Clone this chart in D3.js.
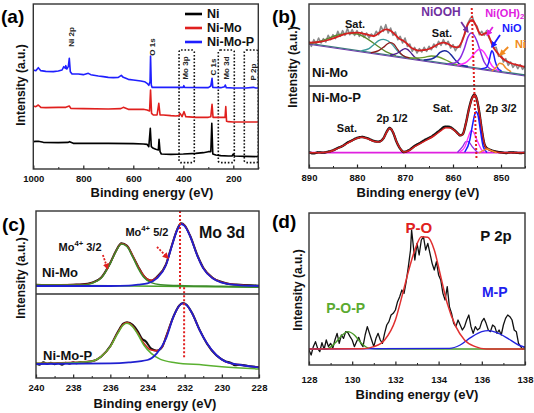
<!DOCTYPE html>
<html><head><meta charset="utf-8">
<script src="https://cdn.jsdelivr.net/npm/d3@7"></script>
<style>
body{margin:0;background:#fff}
text{font-family:'Liberation Sans',Arial,Helvetica,sans-serif;font-weight:bold}
</style>
</head><body>
<svg id="fig" width="534" height="413"></svg>
<script>
// ---------------- DATA ----------------
// (a) survey
const aTicks = [1000, 800, 600, 400, 200];
const aMinor = [900, 700, 500, 300, 100];
const aSeriesNames = ['Ni', 'Ni-Mo', 'Ni-Mo-P'];
const aNi = [[1000,82],[990,83],[980,83],[960,80],[900,79],[860,80],[855,82],[840,77],[800,77],[700,77],[600,76],[560,75],[545,74],[538,67],[532,122],[528,67],[520,62],[510,59],[500,57],[497,89],[493,52],[488,45],[450,44],[400,45],[350,47],[320,49],[300,52],[290,52],[286,137],[282,45],[270,42],[250,40],[220,39],[205,39],[200,45],[195,39],[150,38],[100,37]];
const aNiMo = [[1000,189],[990,187],[980,192],[970,185],[950,184],[900,185],[870,185],[856,189],[850,182],[800,181],[700,180],[650,181],[640,185],[620,179],[580,179],[560,179],[545,177],[535,174],[531,237],[527,167],[520,162],[505,162],[498,197],[493,162],[480,162],[450,160],[430,159],[418,160],[413,167],[405,157],[397,172],[390,157],[350,155],[300,155],[290,157],[285,194],[281,155],[260,155],[240,155],[233,155],[230,187],[227,143],[220,142],[200,141],[150,141],[100,141]];
const aNiMoP = [[1000,297],[990,295],[980,304],[970,295],[950,293],[920,292],[900,294],[885,297],[878,307],[872,302],[870,310],[866,300],[860,307],[856,332],[852,292],[845,285],[820,285],[800,283],[780,287],[770,283],[740,279],[720,277],[700,275],[680,274],[660,275],[648,281],[640,275],[620,269],[600,267],[570,264],[555,262],[545,257],[538,251],[533,262],[531,339],[528,252],[525,245],[500,245],[450,245],[400,245],[398,250],[395,245],[300,244],[290,249],[285,272],[282,245],[250,244],[235,247],[232,252],[228,244],[200,243],[150,243],[120,245],[110,243],[100,243]];
const aBoxes = [['Mo 3p',417,356],['Mo 3d',260,196],['P 2p',156,100]];
const aBoxY = [19, 357];
const aPeakLabels = [['Ni 2p',849,396],['O 1s',525,366],['Mo 3p',393,303],['C 1s',281,306],['Mo 3d',226,303],['P 2p',121,291]];

// (b) Ni 2p
const bTicks = [890, 880, 870, 860, 850];
const bMinor = [885, 875, 865, 855, 845];
const bNiMoRaw = [[890,380],[889.5,365],[889,385],[888.5,372],[888,390],[887.5,375],[887,388],[886.5,378],[886,398],[885.5,385],[885,400],[884.5,388],[884,410],[883.5,395],[883,412],[882.5,398],[882,418],[881.5,400],[881,415],[880.5,398],[880,412],[879.5,395],[879,408],[878.5,392],[878,405],[877.5,390],[877,402],[876.5,395],[876,410],[875.5,400],[875,425],[874.5,410],[874,430],[873.5,405],[873,420],[872.5,398],[872,408],[871.5,385],[871,395],[870.5,375],[870,390],[869.5,365],[869,372],[868.5,350],[868,362],[867.5,345],[867,358],[866.5,348],[866,362],[865.5,350],[865,365],[864.5,355],[864,372],[863.5,362],[863,380],[862.5,368],[862,385],[861.5,370],[861,380],[860.5,360],[860,370],[859.5,352],[859,365],[858.5,362],[858,388],[857.5,402],[857,432],[856.5,446],[856,456],[855.5,432],[855,426],[854.5,400],[854,410],[853.5,398],[853,412],[852.5,390],[852,380],[851.5,360],[851,362],[850.5,335],[850,342],[849.5,318],[849,328],[848.5,308],[848,318],[847.5,302],[847,312],[846.5,298],[846,310],[845.5,296],[845,306]];
const bNiMoFit = [[890,376],[888,378],[886,384],[884,394],[882,404],[880,406],[878,401],[876.5,396],[875,409],[874,416],[873,412],[872,399],[871,386],[870.5,383],[870,378],[869.5,372],[869,364],[868,356],[867,352],[866,354],[865,357],[864,364],[863,372],[862,376],[861,372],[860,364],[859,362],[858.5,370],[858,384],[857.1,425],[856.5,440],[856,444],[855.5,436],[855,420],[854.5,405],[854,399],[853.5,403],[853,405],[852.5,395],[852,375],[851.5,360],[851,350],[850,333],[849,322],[848,315],[846,307],[845,303]];
const bNiMoBase = [[890,374],[845,279]];
const bSatA = [[890,373],[888,379],[886,389],[884,399],[882,404],[880,402],[878,389],[876,369],[874,349],[872,338]];
const bSatB = [[879,352],[877.5,358],[876.5,370],[875.5,382],[874.5,386],[873.5,381],[872.5,368],[871.5,350],[870,333],[868.5,328]];
const bSatC = [[877,346],[875.5,352],[874.5,362],[873.7,372],[873,376],[872.3,371],[871.5,355],[870.5,338],[869,330]];
const bSatD = [[873,339],[871.8,343],[871,350],[870.4,356],[870,358],[869.5,356],[868.8,346],[868,333],[867,326]];
const bSatE = [[869,330],[867.5,330],[866,332],[864.5,336],[863,333],[861.5,324],[860,314],[858,307]];
const bSatF = [[866,324],[864.5,327],[863.5,335],[862.7,347],[861.8,352],[861,348],[860.2,336],[859.3,320],[858.3,309],[857,305]];
const bNiOOH = [[861,312],[859.5,316],[858.5,330],[857.6,360],[856.9,392],[856.2,405],[855.6,398],[855,380],[854.3,350],[853.5,318],[852.5,300],[851.5,293]];
const bNiOH2 = [[859,309],[857.5,315],[856.3,330],[855.3,348],[854.5,356],[853.7,350],[852.8,330],[851.8,305],[850.5,292]];
const bNiO = [[854,298],[853,302],[852.5,320],[852.1,345],[851.9,352],[851.6,345],[851.2,320],[850.6,298],[850,292]];
const bNi0 = [[851.8,292],[851,302],[850.3,314],[849.7,312],[849,300],[848,290]];
const bNiMoPData = [[890,47],[889,44],[888,47],[887,46],[886,49],[885,53],[884,60],[883,66],[882,76],[881,83],[880,90],[879,93],[878,90],[877,84],[876.5,81],[875.5,79],[874.5,89],[873.8,109],[873.2,120],[872.5,107],[871.8,80],[871,58],[870.2,48],[869.5,51],[869,55],[868,66],[867,74],[866,83],[865,90],[864,99],[863,110],[862.5,116],[862,122],[861.5,124],[861,124],[860.5,122],[860,117],[859.5,111],[859,104],[858.5,98],[858,101],[857.3,135],[856.7,176],[856,211],[855.5,220],[855,204],[854.5,165],[854,114],[853.5,74],[853,60],[852.5,56],[852,53],[851,49],[850,47],[849,45],[848,47],[847,46],[846,45],[845,46]];
const bNiMoPFit = [[890,46],[888,46],[886,48],[884,59],[882,74],[880,89],[879,92],[878,89],[876.5,80],[875.5,78],[874.5,88],[873.8,108],[873.2,119],[872.5,108],[871.8,80],[871,58],[870.2,48],[869.5,50],[868,64],[866,80],[864,96],[862.5,112],[861.5,121],[860.5,120],[859.5,110],[858.5,98],[858,100],[857.3,135],[856.7,175],[856,210],[855.5,219],[855,205],[854.5,165],[854,115],[853.5,74],[853,58],[852.5,55],[852,52],[851,48],[850,46],[845,46]];
const bNiMoPBase = [[890,46],[845,46]];
const bP32 = [[857.5,49],[856.5,84],[856,124],[855.5,159],[855.2,169],[854.8,159],[854.3,114],[853.7,64],[853,48]];
const bPOH = [[858.5,49],[857.5,64],[856.8,94],[856.2,112],[855.8,109],[855,84],[854,54],[853.5,48]];
const bPOOH = [[859,48],[858,64],[857.3,79],[856.8,79],[856,64],[855,48]];
const bPNi = [[854.5,46],[853.5,54],[852.8,57],[852,52],[851,46]];
const bRefLine = [[856.1,480],[855.1,25]];
const bDivider = 246;

// (c) Mo 3d
const cTicks = [240, 238, 236, 234, 232, 230, 228];
const cMinor = [239, 237, 235, 233, 231, 229];
const cNiMoBase = [[240,279],[228,272]];
const cNiMo32 = [[240,279],[238,279],[237.5,279],[237,284],[236.5,299],[236,344],[235.7,379],[235.4,402],[235.1,394],[234.8,364],[234.5,329],[234.2,302],[233.8,286],[233.3,280],[232,277],[230,275],[228,272]];
const cNiMo52 = [[240,276],[236,276],[235,277],[234.5,280],[234,284],[233.5,299],[233,339],[232.7,394],[232.4,444],[232.2,462],[232,456],[231.7,424],[231.3,364],[231,329],[230.5,299],[230,286],[229.5,281],[229,278],[228,276]];
const cNiMoFit = [[240,279],[237.5,280],[237,285],[236.5,300],[236,345],[235.7,380],[235.4,403],[235.1,396],[234.8,367],[234.5,333],[234.2,307],[233.8,293],[233.5,302],[233,341],[232.7,395],[232.4,445],[232.2,463],[232,457],[231.7,425],[231.3,365],[231,330],[230.5,300],[230,287],[229.5,282],[229,279],[228,276]];
const cNiMoData = [[240,280],[239,278],[238,280],[237.5,281],[237,286],[236.5,301],[236,346],[235.7,381],[235.4,404],[235.1,397],[234.8,366],[234.5,334],[234.2,306],[233.8,292],[233.5,303],[233,342],[232.7,396],[232.4,446],[232.2,464],[232,458],[231.7,426],[231.3,366],[231,331],[230.5,301],[230,288],[229.5,281],[229,280],[228,277]];
const cNiMoP32 = [[240,44],[238,46],[237,50],[236.5,64],[236,94],[235.6,134],[235.3,159],[235.1,164],[234.8,154],[234.5,129],[234.2,99],[233.8,74],[233.3,56],[232.5,46],[231,39],[230,34],[228,27]];
const cNiMoP52 = [[240,42],[236,44],[235,47],[234,54],[233.5,74],[233,119],[232.6,184],[232.3,216],[232.1,224],[231.9,219],[231.6,194],[231.2,144],[230.8,104],[230.3,69],[229.8,49],[229,39],[228,32]];
const cNiMoPFit = [[240,44],[237,50],[236.5,64],[236,94],[235.6,136],[235.3,161],[235.1,166],[234.8,156],[234.5,132],[234.2,104],[233.8,84],[233.5,82],[233.2,94],[233,124],[232.6,184],[232.3,216],[232.1,224],[231.9,219],[231.6,194],[231.2,144],[230.8,104],[230.3,69],[229.8,49],[229,39],[228,32]];
const cNiMoPData = [[240,44],[239.8,40],[239.6,47],[239.4,42],[239.2,46],[239,41],[238.8,45],[238.6,40],[238.4,46],[238.2,43],[238,47],[237.8,44],[237.6,48],[237.4,45],[237.2,49],[237,50],[236.5,64],[236,96],[235.6,138],[235.3,163],[235.1,167],[234.8,160],[234.5,138],[234.3,118],[234.1,110],[233.8,88],[233.5,82],[233.2,94],[233,124],[232.6,185],[232.3,217],[232.1,225],[231.9,220],[231.6,195],[231.2,145],[230.8,103],[230.3,68],[230,56],[229.8,50],[229.5,45],[229.3,38],[229,40],[228.5,35],[228,33]];
const cRefLines = [[[232.25,501],[232.25,268]],[[232.03,272],[232.03,58]]];
const cArrows = [[[236.4,369],[236.15,328]],[[233.49,393],[232.9,360]]];
const cDivider = 252;

// (d) P 2p
const dTicks = [128, 130, 132, 134, 136, 138];
const dMinor = [129, 131, 133, 135, 137];
const dData = [[128.0,45],[128.1,30],[128.2,55],[128.3,70],[128.4,50],[128.5,40],[128.6,67],[128.7,47],[128.8,75],[128.9,55],[129.0,65],[129.1,50],[129.2,75],[129.3,95],[129.4,65],[129.5,90],[129.6,80],[129.7,100],[129.8,97],[129.9,85],[130.0,75],[130.1,55],[130.2,70],[130.3,83],[130.4,65],[130.5,55],[130.6,90],[130.7,115],[130.8,95],[130.9,75],[131.0,55],[131.1,80],[131.2,95],[131.3,75],[131.4,65],[131.5,95],[131.6,120],[131.7,130],[131.8,150],[131.9,155],[132.0,165],[132.1,190],[132.2,205],[132.3,225],[132.4,215],[132.5,250],[132.6,295],[132.7,345],[132.75,405],[132.8,375],[132.9,315],[133.0,365],[133.1,330],[133.2,375],[133.3,385],[133.4,345],[133.5,365],[133.6,335],[133.7,305],[133.8,285],[133.9,310],[134.0,270],[134.1,255],[134.2,215],[134.3,195],[134.4,235],[134.5,175],[134.6,155],[134.7,125],[134.8,115],[134.9,135],[135.0,120],[135.1,105],[135.2,115],[135.3,135],[135.4,150],[135.5,115],[135.6,95],[135.7,115],[135.8,105],[135.9,110],[136.0,130],[136.1,140],[136.2,125],[136.3,105],[136.4,100],[136.5,120],[136.6,115],[136.7,95],[136.8,105],[136.9,90],[137.0,120],[137.1,140],[137.2,150],[137.3,145],[137.4,135],[137.5,105],[137.6,100],[137.7,65],[137.8,55],[137.9,47],[138.0,55]];
const dPO = [[128,48],[130.5,49],[131,55],[131.5,75],[132,135],[132.3,205],[132.6,280],[132.9,345],[133.2,385],[133.5,383],[133.8,345],[134.1,265],[134.4,185],[134.8,115],[135.2,75],[135.7,55],[136.2,48],[138,48]];
const dPOP = [[128,48],[128.8,48],[129.2,65],[129.5,87],[129.8,100],[130.1,90],[130.4,67],[130.8,50],[131.2,48],[138,48]];
const dMP = [[128,48],[134.5,50],[135,60],[135.5,83],[136,100],[136.3,103],[136.7,97],[137.2,80],[137.7,60],[138,53]];

// ---------------- DRAWING ----------------
const svg = d3.select('#fig');
const defs = svg.append('defs');
const FONT = "'Liberation Sans',Arial,Helvetica,sans-serif";

function marker(id, color, size) {
  defs.append('marker').attr('id', id).attr('viewBox', '0 0 10 10')
    .attr('refX', 8).attr('refY', 5).attr('markerWidth', size).attr('markerHeight', size)
    .attr('orient', 'auto').append('path').attr('d', 'M0,0L10,5L0,10z').attr('fill', color);
}

function panel(cfg) {
  const x = d3.scaleLinear().domain(cfg.xd).range([cfg.l, cfg.r]);
  const y = d3.scaleLinear().domain(cfg.yd).range([cfg.b, cfg.t]);
  const id = 'clip-' + cfg.name;
  defs.append('clipPath').attr('id', id).append('rect')
    .attr('x', cfg.l).attr('y', cfg.t).attr('width', cfg.r - cfg.l).attr('height', cfg.b - cfg.t);
  const plot = svg.append('g').attr('clip-path', `url(#${id})`);
  const over = svg.append('g');
  const mg = over.append('g').attr('transform', `translate(0,${cfg.b})`)
    .call(d3.axisBottom(x).tickValues(cfg.minor).tickSizeInner(-2).tickSizeOuter(0).tickFormat(''));
  mg.select('.domain').remove();
  mg.selectAll('line').attr('stroke', '#222').attr('stroke-width', 1);
  const ag = over.append('g').attr('transform', `translate(0,${cfg.b})`)
    .call(d3.axisBottom(x).tickValues(cfg.ticks).tickSizeInner(-3.5).tickSizeOuter(0).tickPadding(cfg.pad).tickFormat(d3.format('d')));
  ag.select('.domain').remove();
  ag.selectAll('line').attr('stroke', '#222').attr('stroke-width', 1.2);
  ag.selectAll('text').attr('font-size', 9.5).attr('font-weight', 'bold').attr('fill', '#111').attr('font-family', FONT);
  over.append('rect').attr('x', cfg.l).attr('y', cfg.t).attr('width', cfg.r - cfg.l).attr('height', cfg.b - cfg.t)
    .attr('fill', 'none').attr('stroke', '#333').attr('stroke-width', 1.4);
  over.append('text').attr('x', cfg.tx).attr('y', cfg.ty).attr('text-anchor', 'middle')
    .attr('dominant-baseline', 'central').attr('font-size', 13).attr('fill', '#111').text('Binding energy (eV)');
  over.append('text').attr('transform', `translate(${cfg.yx},${cfg.yy}) rotate(-90)`).attr('text-anchor', 'middle')
    .attr('dominant-baseline', 'central').attr('font-size', 12).attr('fill', '#111').text('Intensity (a.u.)');
  over.append('text').attr('x', cfg.px).attr('y', cfg.py).attr('font-size', 19).attr('fill', '#000').text(cfg.label);
  return { x, y, plot, over };
}

function draw(P, data, color, width, curve, extra) {
  const ln = d3.line().x(d => P.x(d[0])).y(d => P.y(d[1])).curve(curve || d3.curveLinear);
  const p = P.plot.append('path').datum(data).attr('d', ln).attr('fill', 'none')
    .attr('stroke', color).attr('stroke-width', width).attr('stroke-linejoin', 'round').attr('stroke-linecap', 'round');
  if (extra) extra(p);
  return p;
}
function label(P, txt, xv, yv, opts) {
  const t = P.over.append('text').attr('x', P.x(xv)).attr('y', P.y(yv))
    .attr('text-anchor', opts.anchor || 'middle').attr('dominant-baseline', 'central')
    .attr('font-size', opts.size || 11).attr('fill', opts.color || '#111');
  if (opts.rotate) t.attr('transform', `rotate(-90,${P.x(xv)},${P.y(yv)})`);
  if (opts.parts) {
    opts.parts.forEach(pt => {
      const s = t.append('tspan').text(pt[0]);
      if (pt[1] === 'sub') s.attr('font-size', (opts.size || 11) * 0.7).attr('dy', 3);
      if (pt[1] === 'sup') s.attr('font-size', (opts.size || 11) * 0.7).attr('dy', -4);
      if (pt[1] === 'back') s.attr('dy', 4);
    });
  } else t.text(txt);
  return t;
}
const smooth = d3.curveMonotoneX;

// ---------- (a) ----------
const A = panel({ name: 'a', xd: [1000, 100], yd: [0, 495], l: 33.3, r: 258.3, t: 4, b: 169,
  ticks: aTicks, minor: aMinor, pad: 6, tx: 152, ty: 192, yx: 21, yy: 85, px: 1, py: 23, label: '(a)' });
const aColors = ['#000000', '#e0201e', '#1f1fff'];
aBoxes.forEach(b => {
  A.plot.append('rect').attr('x', A.x(b[1])).attr('y', A.y(aBoxY[1]))
    .attr('width', A.x(b[2]) - A.x(b[1])).attr('height', A.y(aBoxY[0]) - A.y(aBoxY[1]))
    .attr('rx', 2).attr('fill', 'none').attr('stroke', '#111').attr('stroke-width', 1.6).attr('stroke-dasharray', '1.6,1.8');
});
[aNi, aNiMo, aNiMoP].forEach((s, i) => draw(A, s, aColors[i], 1.6));
aPeakLabels.forEach(l => label(A, l[0], l[1], l[2], { size: 8, rotate: true, color: '#222' }));
aSeriesNames.forEach((n, i) => {
  const yy = 14 + i * 14;
  A.over.append('line').attr('x1', 185).attr('x2', 202).attr('y1', yy).attr('y2', yy)
    .attr('stroke', aColors[i]).attr('stroke-width', 2.6);
  A.over.append('text').attr('x', 207).attr('y', yy).attr('dominant-baseline', 'central')
    .attr('font-size', 12.5).attr('fill', '#111').text(n);
});

// ---------- (b) ----------
const B = panel({ name: 'b', xd: [890, 845], yd: [0, 492], l: 309, r: 525, t: 4, b: 168,
  ticks: bTicks, minor: bMinor, pad: 6, tx: 418, ty: 192, yx: 293, yy: 67, px: 272, py: 23, label: '(b)' });
B.over.append('line').attr('x1', 309).attr('x2', 525).attr('y1', B.y(bDivider)).attr('y2', B.y(bDivider))
  .attr('stroke', '#333').attr('stroke-width', 1.3);
draw(B, bNiMoRaw, '#8a8a8a', 1.6);
draw(B, bNiMoBase, '#3c7c7c', 1.3);
draw(B, bNiMoBase.map(d => [d[0], d[1] - 3]), '#6a3aa8', 1);
draw(B, bSatA, '#5b8a2e', 1.3, smooth);
draw(B, bSatB, '#3a9a9a', 1.3, smooth);
draw(B, bSatC, '#8b1a1a', 1.3, smooth);
draw(B, bSatD, '#4a1a8a', 1.3, smooth);
draw(B, bSatE, '#6a9a2a', 1.3, smooth);
draw(B, bSatF, '#1c2a9c', 1.5, smooth);
draw(B, bNiOOH, '#8a2be2', 1.5, smooth);
draw(B, bNiOH2, '#ff30ff', 1.5, smooth);
draw(B, bNiO, '#1a1aff', 1.5, smooth);
draw(B, bNi0, '#f0902a', 1.5, smooth);
draw(B, bNiMoFit, '#d42020', 1.8, smooth);
draw(B, bNiMoPBase, '#e020e0', 1.8);
draw(B, bNiMoPData, '#111', 2.4, smooth, p => p.attr('stroke-dasharray', '1.5,0.8'));
draw(B, bNiMoPFit, '#d42020', 1.5, smooth);
draw(B, bPOOH, '#8a2be2', 1.3, smooth);
draw(B, bPOH, '#ff30ff', 1.3, smooth);
draw(B, bP32, '#1a1aff', 1.5, smooth);
draw(B, bPNi, '#f0902a', 1.3, smooth);
draw(B, bRefLine, '#e02020', 2, null, p => p.attr('stroke-dasharray', '2,2').attr('stroke-linecap', 'butt'));
label(B, 'Sat.', 880.4, 432, { size: 11 });
label(B, 'Sat.', 862.3, 405, { size: 11 });
label(B, 'NiOOH', 862.5, 468, { size: 12, color: '#7030a0' });
label(B, '', 853.3, 466, { size: 11, anchor: 'start', color: '#e020e0', parts: [['Ni(OH)'], ['2', 'sub']] });
label(B, 'NiO', 849.8, 421, { size: 11, anchor: 'start', color: '#1a1aff' });
label(B, 'Ni', 847.1, 373, { size: 11, anchor: 'start', color: '#f08a20' });
label(B, 'Ni-Mo', 889.4, 288, { size: 13, anchor: 'start' });
label(B, 'Ni-Mo-P', 889.4, 213, { size: 13, anchor: 'start' });
label(B, 'Sat.', 882.1, 120, { size: 11 });
label(B, '2p 1/2', 872.7, 150, { size: 11 });
label(B, 'Sat.', 862.1, 180, { size: 11 });
label(B, '2p 3/2', 850, 180, { size: 11 });
const bArrows = [[[858.3, 438], [856.9, 408], '#7030a0'], [[851.7, 423], [852.9, 399], '#e020e0'], [[850.2, 399], [851.9, 363], '#1a1aff'], [[848.5, 363], [850.2, 339], '#f08a20']];
bArrows.forEach((a, i) => {
  marker('mb' + i, a[2], 3.5);
  B.over.append('line').attr('x1', B.x(a[0][0])).attr('y1', B.y(a[0][1])).attr('x2', B.x(a[1][0])).attr('y2', B.y(a[1][1]))
    .attr('stroke', a[2]).attr('stroke-width', 1.8).attr('marker-end', `url(#mb${i})`);
});

// ---------- (c) ----------
const C = panel({ name: 'c', xd: [240, 228], yd: [0, 501], l: 36, r: 259, t: 211, b: 378,
  ticks: cTicks, minor: cMinor, pad: 6, tx: 155, ty: 403, yx: 21, yy: 278, px: 2, py: 231, label: '(c)' });
C.over.append('line').attr('x1', 36).attr('x2', 259).attr('y1', C.y(cDivider)).attr('y2', C.y(cDivider))
  .attr('stroke', '#333').attr('stroke-width', 1.3);
draw(C, cNiMoBase, '#4aa02a', 1.5);
draw(C, cNiMoData, '#111', 2, smooth);
draw(C, cNiMoFit, '#d42020', 1.6, smooth);
draw(C, cNiMo32, '#3c8a2a', 1.5, smooth);
draw(C, cNiMo52, '#2020d0', 1.8, smooth);
draw(C, cNiMoPData, '#111', 2, smooth);
draw(C, cNiMoPFit, '#d42020', 1.6, smooth);
draw(C, cNiMoP32, '#5ab030', 1.5, smooth);
draw(C, cNiMoP52, '#2020d0', 1.8, smooth);
cRefLines.forEach(l => draw(C, l, '#e02020', 2, null, p => p.attr('stroke-dasharray', '2,2').attr('stroke-linecap', 'butt')));
marker('mc', '#e02020', 3.5);
cArrows.forEach(a => {
  C.over.append('line').attr('x1', C.x(a[0][0])).attr('y1', C.y(a[0][1])).attr('x2', C.x(a[1][0])).attr('y2', C.y(a[1][1]))
    .attr('stroke', '#e02020').attr('stroke-width', 1.8).attr('stroke-dasharray', '2,1.5').attr('marker-end', 'url(#mc)');
});
label(C, '', 237.63, 393, { size: 11, parts: [['Mo'], ['4+', 'sup'], [' 3/2', 'back']] });
label(C, '', 234.03, 438, { size: 11, parts: [['Mo'], ['4+', 'sup'], [' 5/2', 'back']] });
label(C, 'Mo 3d', 229.99, 438, { size: 16 });
label(C, 'Ni-Mo', 239.68, 318, { size: 13, anchor: 'start' });
label(C, 'Ni-Mo-P', 239.62, 69, { size: 13, anchor: 'start' });

// ---------- (d) ----------
const D = panel({ name: 'd', xd: [128, 138], yd: [0, 456], l: 309, r: 525, t: 213, b: 365,
  ticks: dTicks, minor: dMinor, pad: 11, tx: 417, ty: 394, yx: 298, yy: 290, px: 272, py: 228, label: '(d)' });
draw(D, dData, '#111', 1.3);
draw(D, dPOP, '#4a9a2a', 1.4, smooth);
draw(D, dMP, '#2222dd', 1.4, smooth);
draw(D, dPO, '#e03030', 1.5, smooth);
label(D, 'P-O', 133.09, 414, { size: 15, color: '#e02020' });
label(D, 'P 2p', 136.66, 390, { size: 15 });
label(D, 'M-P', 136.6, 219, { size: 14, color: '#2020ee' });
label(D, 'P-O-P', 129.7, 171, { size: 14, color: '#5aaa30' });
</script>
</body></html>
